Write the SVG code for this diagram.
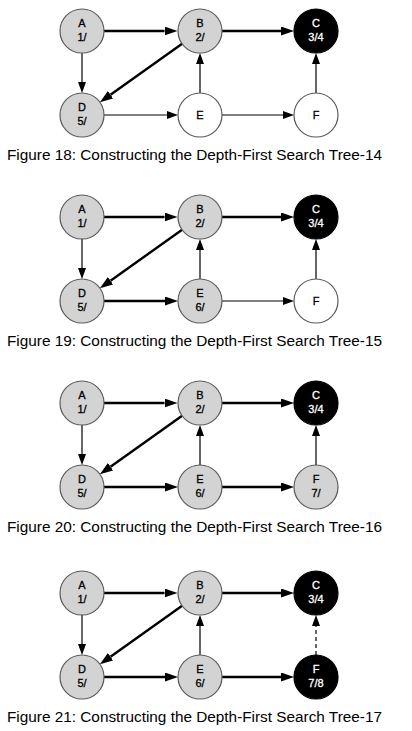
<svg xmlns="http://www.w3.org/2000/svg" width="412" height="731" viewBox="0 0 412 731">
<style>
.bg{fill:#ffffff}
.n circle{stroke:#5a5a5a;stroke-width:1.2}
.gray circle{fill:#d3d3d3}
.white circle{fill:#ffffff}
.black circle{fill:#000000;stroke:#000000}
.n text{font-family:"Liberation Sans",Arial,sans-serif;font-size:11px;text-anchor:middle;fill:#000;stroke:#000;stroke-width:0.3}
.black text{fill:#ffffff;stroke:#ffffff}
.thick{stroke:#000;stroke-width:2.4;fill:none;marker-end:url(#ah)}
.thin{stroke:#000;stroke-width:1.2;fill:none;marker-end:url(#at)}
.dash{stroke-dasharray:4 3}
.cap{font-family:"Liberation Sans",Arial,sans-serif;font-size:14px;fill:#000}
</style>
<defs>
<marker id="ah" markerUnits="userSpaceOnUse" markerWidth="13" markerHeight="9" refX="0" refY="4.5" orient="auto"><path d="M0,0 L13,4.5 L0,9 z" fill="#000"/></marker>
<marker id="at" markerUnits="userSpaceOnUse" markerWidth="11" markerHeight="8" refX="0" refY="4" orient="auto"><path d="M0,0 L11,4 L0,8 z" fill="#000"/></marker>
</defs>
<rect class="bg" x="0" y="0" width="412" height="731"/>

<!-- Figure 18 -->
<g id="fig18">
<g id="fig18-edges">
<line class="thick" x1="104" y1="31" x2="164.5" y2="31"/>
<line class="thick" x1="222" y1="31" x2="281" y2="31"/>
<line class="thin" x1="82" y1="53" x2="82" y2="82"/>
<line class="thick" x1="182.1" y1="43.8" x2="110.5" y2="94.7"/>
<line class="thin" x1="104" y1="115" x2="167" y2="115"/>
<line class="thin" x1="200" y1="93" x2="200" y2="64"/>
<line class="thin" x1="222" y1="115" x2="283" y2="115"/>
<line class="thin" x1="316" y1="93" x2="316" y2="64"/>
</g>
<g id="fig18-A" class="n gray"><circle cx="82" cy="31" r="22"/><text x="82" y="27">A</text><text x="82" y="41">1/</text></g>
<g id="fig18-B" class="n gray"><circle cx="200" cy="31" r="22"/><text x="200" y="27">B</text><text x="200" y="41">2/</text></g>
<g id="fig18-C" class="n black"><circle cx="316" cy="31" r="22"/><text x="316" y="27">C</text><text x="316" y="41">3/4</text></g>
<g id="fig18-D" class="n gray"><circle cx="82" cy="115" r="22"/><text x="82" y="111">D</text><text x="82" y="125">5/</text></g>
<g id="fig18-E" class="n white"><circle cx="200" cy="115" r="22"/><text x="200" y="119">E</text></g>
<g id="fig18-F" class="n white"><circle cx="316" cy="115" r="22"/><text x="316" y="119">F</text></g>
<text class="cap" x="7" y="160" textLength="375" lengthAdjust="spacingAndGlyphs">Figure 18: Constructing the Depth-First Search Tree-14</text>
</g>

<!-- Figure 19 -->
<g id="fig19" transform="translate(0,186)">
<g id="fig19-edges">
<line class="thick" x1="104" y1="31" x2="164.5" y2="31"/>
<line class="thick" x1="222" y1="31" x2="281" y2="31"/>
<line class="thin" x1="82" y1="53" x2="82" y2="82"/>
<line class="thick" x1="182.1" y1="43.8" x2="110.5" y2="94.7"/>
<line class="thick" x1="104" y1="115" x2="165" y2="115"/>
<line class="thin" x1="200" y1="93" x2="200" y2="64"/>
<line class="thin" x1="222" y1="115" x2="283" y2="115"/>
<line class="thin" x1="316" y1="93" x2="316" y2="64"/>
</g>
<g id="fig19-A" class="n gray"><circle cx="82" cy="31" r="22"/><text x="82" y="27">A</text><text x="82" y="41">1/</text></g>
<g id="fig19-B" class="n gray"><circle cx="200" cy="31" r="22"/><text x="200" y="27">B</text><text x="200" y="41">2/</text></g>
<g id="fig19-C" class="n black"><circle cx="316" cy="31" r="22"/><text x="316" y="27">C</text><text x="316" y="41">3/4</text></g>
<g id="fig19-D" class="n gray"><circle cx="82" cy="115" r="22"/><text x="82" y="111">D</text><text x="82" y="125">5/</text></g>
<g id="fig19-E" class="n gray"><circle cx="200" cy="115" r="22"/><text x="200" y="111">E</text><text x="200" y="125">6/</text></g>
<g id="fig19-F" class="n white"><circle cx="316" cy="115" r="22"/><text x="316" y="119">F</text></g>
<text class="cap" x="7" y="160" textLength="375" lengthAdjust="spacingAndGlyphs">Figure 19: Constructing the Depth-First Search Tree-15</text>
</g>

<!-- Figure 20 -->
<g id="fig20" transform="translate(0,372)">
<g id="fig20-edges">
<line class="thick" x1="104" y1="31" x2="164.5" y2="31"/>
<line class="thick" x1="222" y1="31" x2="281" y2="31"/>
<line class="thin" x1="82" y1="53" x2="82" y2="82"/>
<line class="thick" x1="182.1" y1="43.8" x2="110.5" y2="94.7"/>
<line class="thick" x1="104" y1="115" x2="165" y2="115"/>
<line class="thin" x1="200" y1="93" x2="200" y2="64"/>
<line class="thick" x1="222" y1="115" x2="281" y2="115"/>
<line class="thin" x1="316" y1="93" x2="316" y2="64"/>
</g>
<g id="fig20-A" class="n gray"><circle cx="82" cy="31" r="22"/><text x="82" y="27">A</text><text x="82" y="41">1/</text></g>
<g id="fig20-B" class="n gray"><circle cx="200" cy="31" r="22"/><text x="200" y="27">B</text><text x="200" y="41">2/</text></g>
<g id="fig20-C" class="n black"><circle cx="316" cy="31" r="22"/><text x="316" y="27">C</text><text x="316" y="41">3/4</text></g>
<g id="fig20-D" class="n gray"><circle cx="82" cy="115" r="22"/><text x="82" y="111">D</text><text x="82" y="125">5/</text></g>
<g id="fig20-E" class="n gray"><circle cx="200" cy="115" r="22"/><text x="200" y="111">E</text><text x="200" y="125">6/</text></g>
<g id="fig20-F" class="n gray"><circle cx="316" cy="115" r="22"/><text x="316" y="111">F</text><text x="316" y="125">7/</text></g>
<text class="cap" x="7" y="160" textLength="375" lengthAdjust="spacingAndGlyphs">Figure 20: Constructing the Depth-First Search Tree-16</text>
</g>

<!-- Figure 21 -->
<g id="fig21" transform="translate(0,562)">
<g id="fig21-edges">
<line class="thick" x1="104" y1="31" x2="164.5" y2="31"/>
<line class="thick" x1="222" y1="31" x2="281" y2="31"/>
<line class="thin" x1="82" y1="53" x2="82" y2="82"/>
<line class="thick" x1="182.1" y1="43.8" x2="110.5" y2="94.7"/>
<line class="thick" x1="104" y1="115" x2="165" y2="115"/>
<line class="thin" x1="200" y1="93" x2="200" y2="64"/>
<line class="thick" x1="222" y1="115" x2="281" y2="115"/>
<line class="thin dash" x1="316" y1="93" x2="316" y2="64"/>
</g>
<g id="fig21-A" class="n gray"><circle cx="82" cy="31" r="22"/><text x="82" y="27">A</text><text x="82" y="41">1/</text></g>
<g id="fig21-B" class="n gray"><circle cx="200" cy="31" r="22"/><text x="200" y="27">B</text><text x="200" y="41">2/</text></g>
<g id="fig21-C" class="n black"><circle cx="316" cy="31" r="22"/><text x="316" y="27">C</text><text x="316" y="41">3/4</text></g>
<g id="fig21-D" class="n gray"><circle cx="82" cy="115" r="22"/><text x="82" y="111">D</text><text x="82" y="125">5/</text></g>
<g id="fig21-E" class="n gray"><circle cx="200" cy="115" r="22"/><text x="200" y="111">E</text><text x="200" y="125">6/</text></g>
<g id="fig21-F" class="n black"><circle cx="316" cy="115" r="22"/><text x="316" y="111">F</text><text x="316" y="125">7/8</text></g>
<text class="cap" x="7" y="160" textLength="375" lengthAdjust="spacingAndGlyphs">Figure 21: Constructing the Depth-First Search Tree-17</text>
</g>
</svg>
